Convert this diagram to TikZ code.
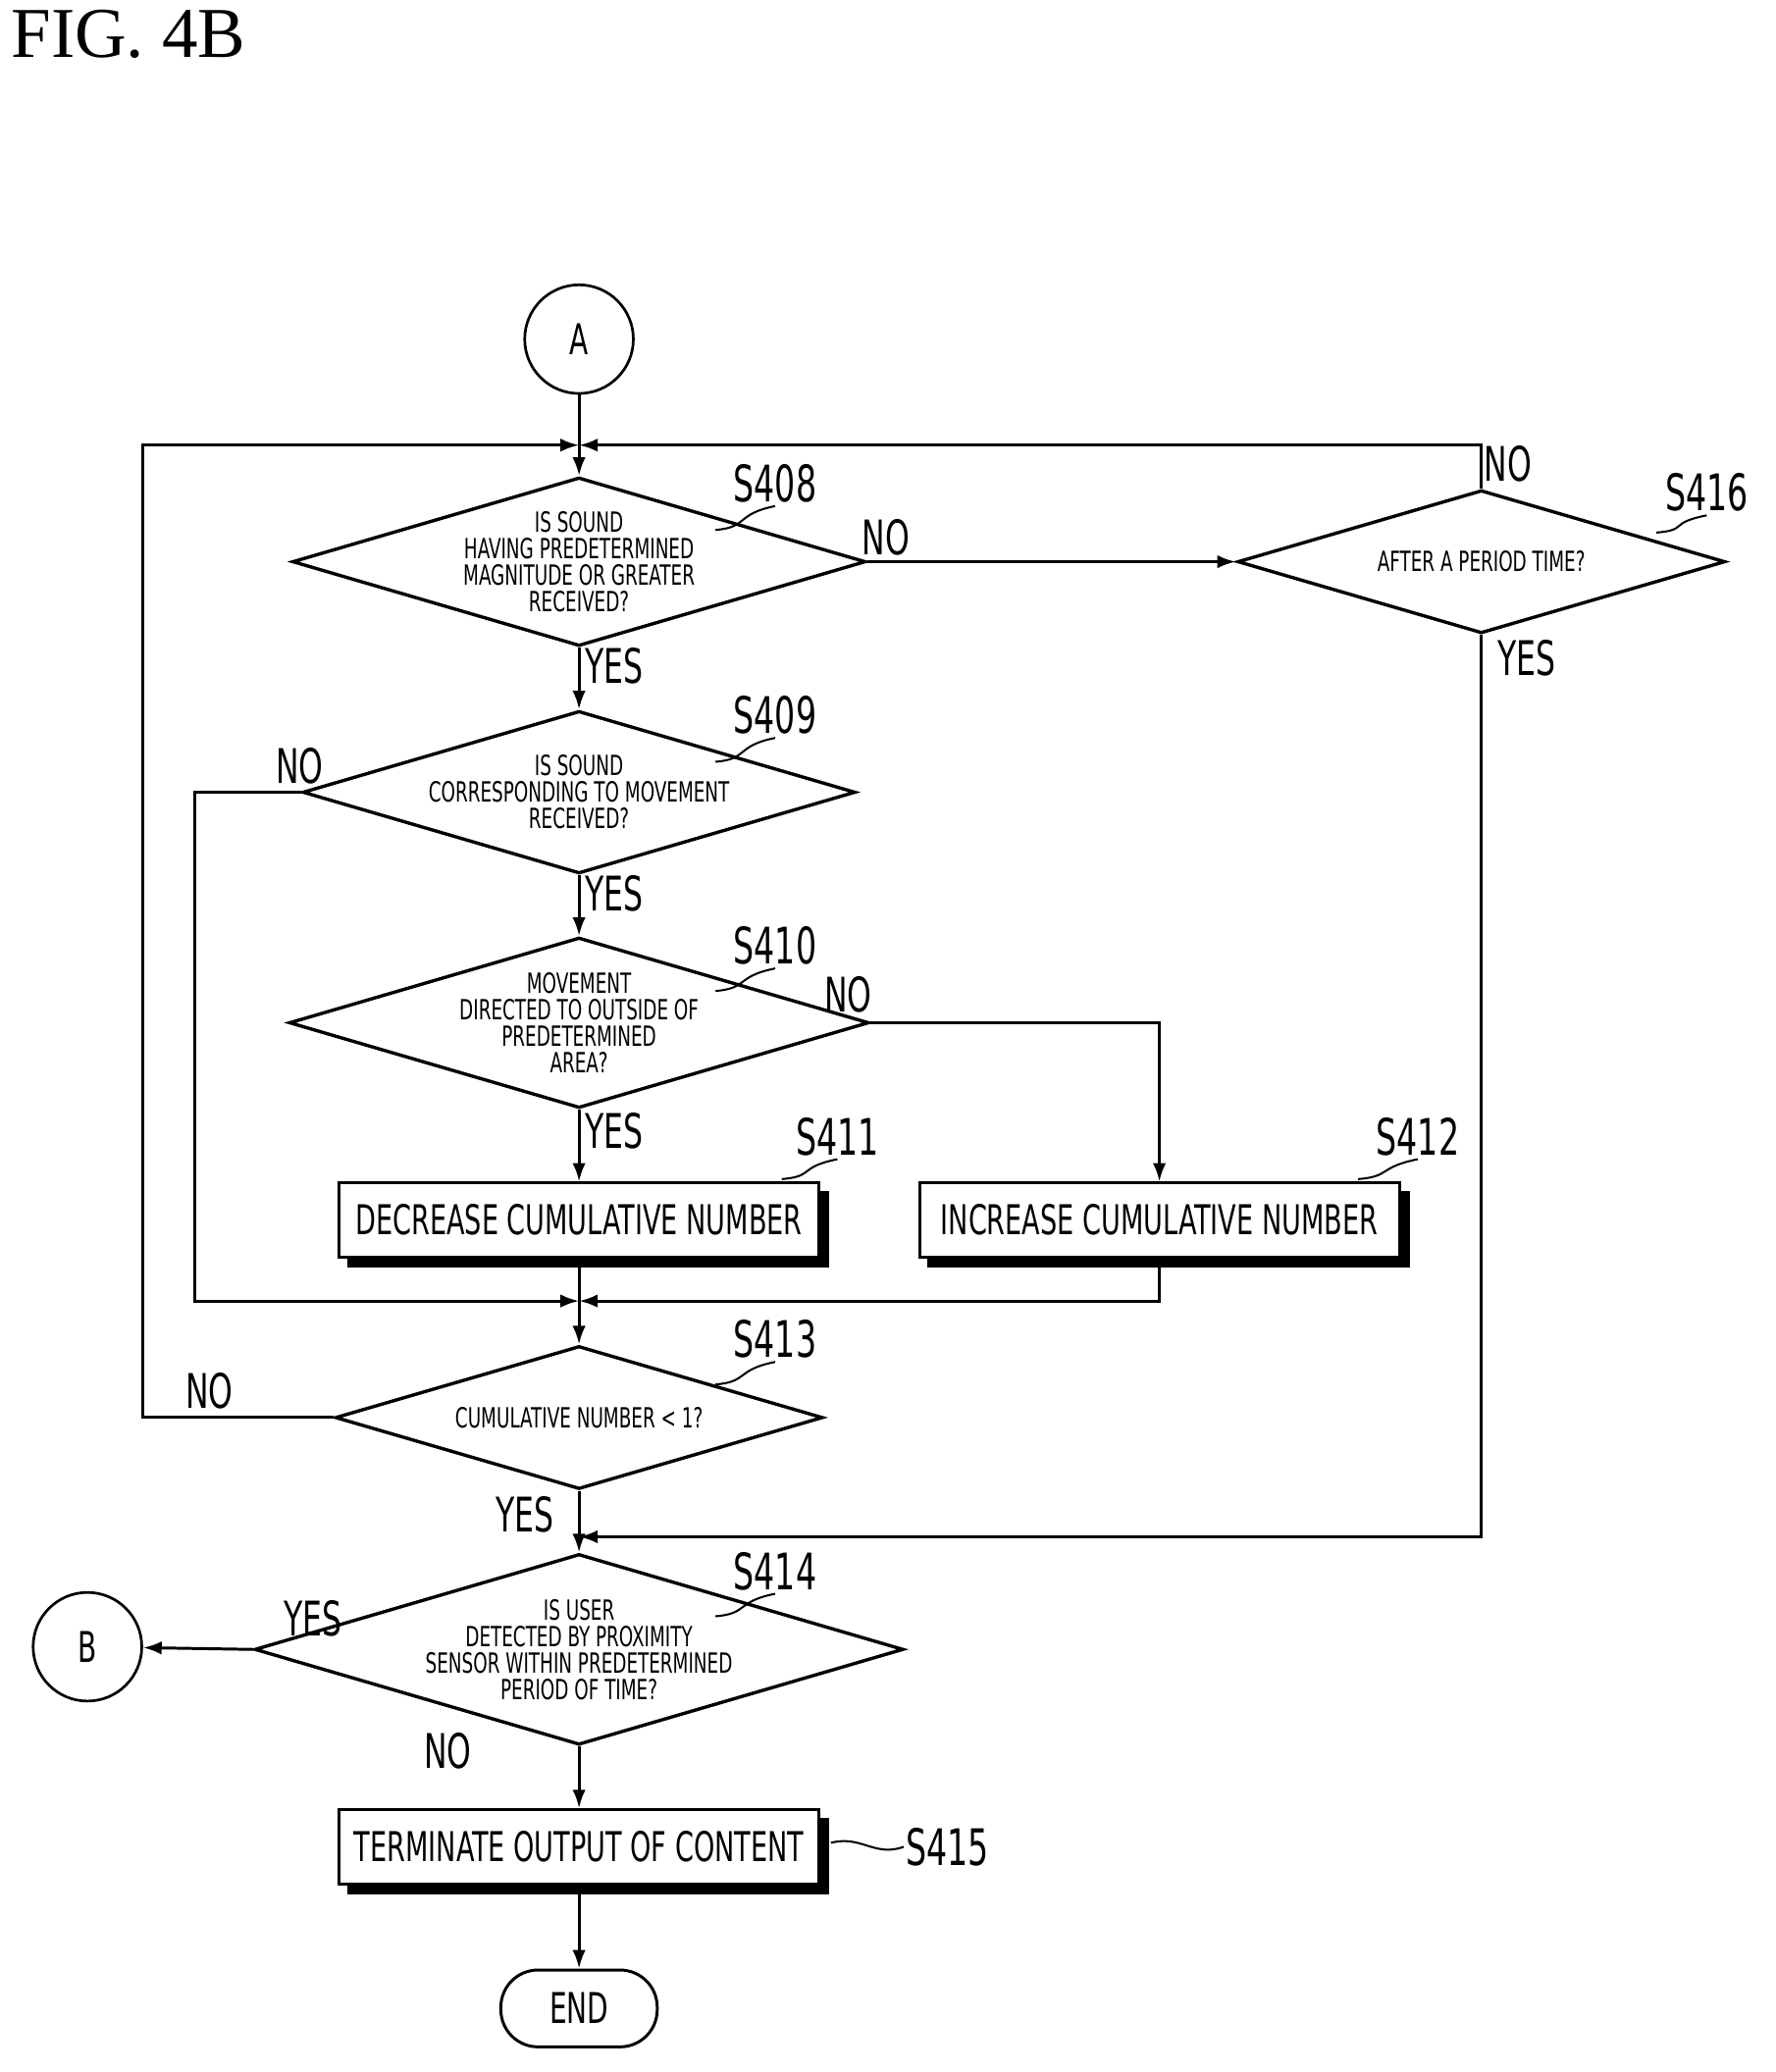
\documentclass[tikz,border=0pt]{standalone}
\usepackage{fontspec}
\setmainfont{Liberation Serif}
\newfontfamily\cond[FakeStretch=0.72]{DejaVu Sans Condensed}
\usetikzlibrary{shapes.geometric,arrows.meta}
\tikzset{
  line/.style={line width=2.2pt},
  flow/.style={line, -{Latex[length=14pt,width=10pt]}},
  decision/.style={diamond, draw, line width=2.5pt, aspect=3.4, minimum width=368pt, minimum height=108pt,
    inner sep=0pt, align=center, font=\cond\fontsize{21}{20}\selectfont},
  process/.style={rectangle, draw, line width=2.2pt, fill=white, minimum width=362pt, minimum height=56pt,
    font=\cond\fontsize{31}{31}\selectfont},
  conn/.style={circle, draw, line width=2pt, minimum size=82pt, font=\cond\fontsize{32}{32}\selectfont},
  steplbl/.style={font=\cond\fontsize{38}{38}\selectfont},
  ans/.style={font=\cond\fontsize{36}{36}\selectfont}
}
\newcommand{\shadowbox}[1]{\fill ([shift={(7,7)}]#1.north west) rectangle ([shift={(7,7)}]#1.south east);}
\begin{document}
\begin{tikzpicture}[x=1pt,y=-1pt]
\useasboundingbox (0,0) rectangle (1340,1564);
\node[anchor=north west, font=\fontsize{54}{54}\selectfont] (title) at (5,4) {FIG. 4B};

% nodes
\node[conn] (A) at (437,256) {A};
\node[decision] (s408) at (437,424) {IS SOUND\\HAVING PREDETERMINED\\MAGNITUDE OR GREATER\\RECEIVED?};
\node[decision] (s416) at (1118,424) {AFTER A PERIOD TIME?};
\node[decision] (s409) at (437,598) {IS SOUND\\CORRESPONDING TO MOVEMENT\\RECEIVED?};
\node[decision] (s410) at (437,772) {MOVEMENT\\DIRECTED TO OUTSIDE OF\\PREDETERMINED\\AREA?};
\node[process] (s411) at (437,921) {DECREASE CUMULATIVE NUMBER};
\node[process] (s412) at (875,921) {INCREASE CUMULATIVE NUMBER};
\node[decision] (s413) at (437,1070) {CUMULATIVE NUMBER < 1?};
\node[decision] (s414) at (437,1245) {IS USER\\DETECTED BY PROXIMITY\\SENSOR WITHIN PREDETERMINED\\PERIOD OF TIME?};
\node[conn] (B) at (66,1243) {B};
\node[process] (s415) at (437,1394) {TERMINATE OUTPUT OF CONTENT};
\node[rectangle, rounded corners=28pt, draw, line width=2.2pt, minimum width=118pt, minimum height=58pt,
  font=\cond\fontsize{32}{32}\selectfont] (end) at (437,1516) {END};
\shadowbox{s411}\shadowbox{s412}\shadowbox{s415}
\node[process] at (s411) {DECREASE CUMULATIVE NUMBER};
\node[process] at (s412) {INCREASE CUMULATIVE NUMBER};
\node[process] at (s415) {TERMINATE OUTPUT OF CONTENT};

\coordinate (top) at (437,336);
\coordinate (merge) at (437,982);
\coordinate (join) at (437,1160);

% connectors
\draw[flow] (A) -- (s408);
\draw[flow] (s408) -- node[ans, right, pos=0.3] {YES} (s409);
\draw[flow] (s409) -- node[ans, right, pos=0.3] {YES} (s410);
\draw[flow] (s410) -- node[ans, right, pos=0.3] {YES} (s411);
\draw[flow] (s408.east) -- node[ans, above, pos=0.05] {NO} (s416.west);
\draw[flow] (s416.north) -- (1118,336) -- (top);
\draw[flow] (s416.south) -- (1118,1160) -- (join);
\draw[flow] (s410.east) -- (875,772) -- (s412.north);
\draw[flow] (s409.west) -- (147,598) -- (147,982) -- (merge);
\draw[flow] (s412.south) -- (875,982) -- (merge);
\draw[line] (s411.south) -- (merge);
\draw[flow] (merge) -- (s413);
\draw[flow] (s413.west) -- (108,1070) -- (108,336) -- (top);
\draw[flow] (s413) -- (s414);
\draw[flow] (s414.west) -- (B);
\draw[flow] (s414) -- (s415);
\draw[flow] (s415) -- (end);

% answer labels
\node[ans] (no416) at (1138,350) {NO};
\node[ans] (yes416) at (1152,497) {YES};
\node[ans] (no409) at (226,578) {NO};
\node[ans] (no410) at (640,751) {NO};
\node[ans] (no413) at (158,1050) {NO};
\node[ans] (yes413) at (396,1143) {YES};
\node[ans] (yes414) at (236,1222) {YES};
\node[ans] (no414) at (338,1322) {NO};

% step labels
\foreach \n/\x/\y/\ax/\ay in {S408/590/360/540/400, S409/590/535/540/575, S410/590/709/540/748,
    S411/637/853/590/890, S412/1075/853/1025/890, S413/590/1006/540/1045, S414/590/1181/540/1220,
    S416/1293/367/1250/402}
  \draw[line width=1.5pt] (\ax,\ay) .. controls (\ax+25,\ay-2) and (\x-35,\y+28) .. (\x-5,\y+22)
    node[steplbl, anchor=south, inner sep=2pt] {\n};
\draw[line width=1.5pt] (s415.east) ++(8,-3) .. controls (650,1385) and (660,1402) .. (682,1394)
  node[steplbl, anchor=west, inner sep=1pt] {S415};
\end{tikzpicture}
\end{document}
